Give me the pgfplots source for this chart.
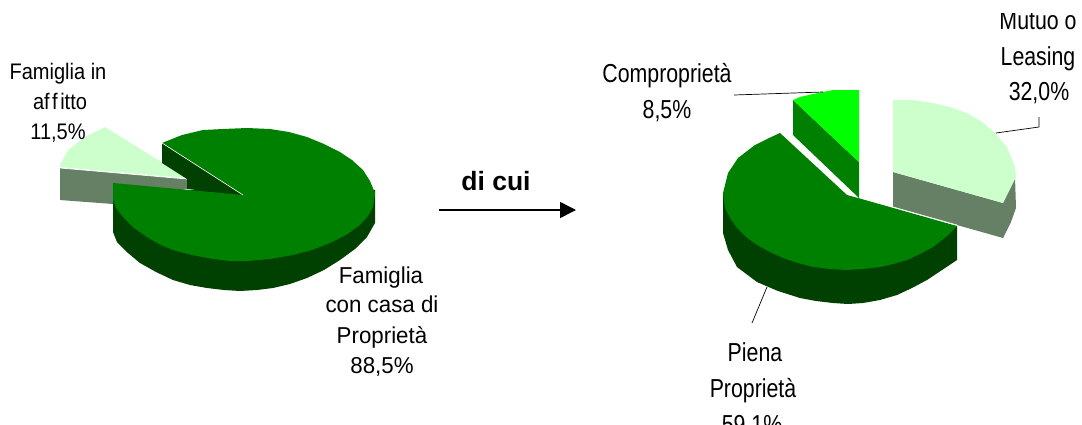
\documentclass[border=0pt]{standalone}
\usepackage{fontspec}
\setmainfont{Liberation Sans}
\newfontfamily\stretta[FakeStretch=0.82]{Liberation Sans}
\newfontfamily\media[FakeStretch=0.89]{Liberation Sans}
\newfontfamily\larga[FakeStretch=0.97]{Liberation Sans}
\usepackage{pgfplots}
\pgfplotsset{compat=1.18}
\usetikzlibrary{arrows.meta}
\definecolor{verde}{HTML}{008000}
\definecolor{verdesc}{HTML}{004000}
\definecolor{chiaro}{HTML}{CCFFCC}
\definecolor{chiarosc}{HTML}{668066}
\definecolor{acceso}{HTML}{00FF00}
\tikzset{
  lab/.style={anchor=base, inner sep=0pt, text=black},
  labr/.style={lab, font=\stretta\fontsize{26}{30}\selectfont},
  labs/.style={lab, font=\media\fontsize{22.5}{26}\selectfont},
  labf/.style={lab, font=\larga\fontsize{23}{27}\selectfont},
}
\pgfplotsset{slice/.style={draw=none, fill=#1, mark=none, forget plot}}
\begin{document}
\begin{tikzpicture}
\path[clip, use as bounding box] (0,0) rectangle (1082pt,424pt);
\begin{axis}[
  at={(0,0)}, anchor=south west,
  scale only axis, width=1082pt, height=424pt,
  xmin=0, xmax=1082, ymin=0, ymax=424,
  y dir=reverse, hide axis, clip=false,
]
% torta sinistra: affitto
\addplot[slice=chiarosc] coordinates {(60,168) (187,179) (187,189) (113,204) (60,200)} -- cycle;
\addplot[slice=chiaro] coordinates {(187,178) (105,127) (85,137) (68,150) (60,165) (60,167) (162,176)} -- cycle;
\addplot[draw=white, line width=0.7pt, forget plot] coordinates {(60,168) (187,179)};
% torta sinistra: proprieta
\addplot[slice=verdesc] coordinates {(162,143) (162,163) (187,179) (187,189) (243,195)} -- cycle;
\addplot[slice=verdesc] coordinates {(113,190) (113,232) (117,242) (128,253) (140,263) (156,272) (173,280) (190,285) (207,288) (224,290) (240,291) (257,290) (273,288) (290,284) (307,278) (324,270) (340,260) (355,249) (367,237) (375,223) (375,190)} -- cycle;
\addplot[slice=verde] coordinates {(113,183) (243,195) (162,143) (182,135) (203,130) (223,129) (247,128) (270,129) (289,132) (307,137) (324,144) (340,152) (352,160) (363,170) (370,181) (375,193) (373,207) (368,216) (360,225) (346,235) (330,243) (312,250) (293,255) (270,259) (247,261) (230,261) (213,259) (192,255) (173,250) (159,244) (147,237) (134,228) (123,217) (116,208) (113,200)} -- cycle;
\addplot[draw=white, line width=0.6pt, forget plot] coordinates {(162,143) (243,195)};
% torta destra: mutuo
\addplot[slice=chiarosc] coordinates {(893,172) (1003,203) (1003,238) (893,207)} -- cycle;
\addplot[slice=chiarosc] coordinates {(1003,203) (1015,177) (1016,208) (1011,222) (1003,238)} -- cycle;
\addplot[slice=chiaro] coordinates {(893,100) (913,100) (933,103) (950,107) (967,113) (982,122) (995,133) (1007,147) (1015,167) (1016,177) (1003,203) (893,172)} -- cycle;
% torta destra: comproprieta
\addplot[slice=verde] coordinates {(793,100) (859,162) (859,198) (793,135)} -- cycle;
\addplot[slice=acceso] coordinates {(793,100) (800,97) (813,94) (833,90) (859,90) (859,162)} -- cycle;
% torta destra: piena
\addplot[slice=verdesc] coordinates {(723,193) (723,233) (728,250) (737,267) (757,282) (778,291) (800,298) (816,301) (833,303) (848,304) (863,303) (880,300) (897,295) (912,288) (927,280) (942,270) (957,260) (957,226)} -- cycle;
\addplot[slice=verde] coordinates {(847,195) (858,198) (957,226) (946,237) (933,247) (920,254) (907,260) (893,264) (880,267) (863,269) (847,270) (830,269) (813,267) (798,263) (783,258) (770,252) (757,245) (746,237) (737,228) (730,218) (725,208) (723,193) (728,173) (738,158) (755,145) (767,139) (780,133)} -- cycle;
\addplot[draw=white, line width=0.7pt, forget plot] coordinates {(893,207) (957,225)};
% linee guida
\addplot[black, line width=0.7pt, forget plot] coordinates {(734,95) (823,92)};
\addplot[black, line width=0.7pt, forget plot] coordinates {(996,133) (1039,127) (1039,117)};
\addplot[black, line width=0.7pt, forget plot] coordinates {(767,287) (752,323)};
% freccia
\addplot[black, line width=1.5pt, forget plot, -{Triangle[length=16pt, width=16pt]}] coordinates {(439,210) (576,210)};
% etichette
\node[labs] at (axis cs:58,79) {Famiglia in};
\node[labs] at (axis cs:60,109) {af\kern2.5pt f\kern2.5pt itto};
\node[labs] at (axis cs:58,139) {11,5\%};
\node[labf] at (axis cs:381,283) {Famiglia};
\node[labf] at (axis cs:382,312) {con casa di};
\node[labf] at (axis cs:382,343) {Proprietà};
\node[labf] at (axis cs:382,373) {88,5\%};
\node[labr] at (axis cs:667,82) {Comproprietà};
\node[labr] at (axis cs:667,118) {8,5\%};
\node[labr] at (axis cs:1038,29) {Mutuo o};
\node[labr] at (axis cs:1038,65) {Leasing};
\node[labr] at (axis cs:1039,100) {32,0\%};
\node[labr] at (axis cs:755,361) {Piena};
\node[labr] at (axis cs:753,397) {Proprietà};
\node[labr] at (axis cs:752,433) {59,1\%};
\node[lab, font=\fontsize{26.5}{30}\selectfont\bfseries] at (axis cs:496,190) {di cui};
% il riquadro del grafico taglia la prima riga in alto
\fill[white] (axis cs:990,0) rectangle (axis cs:1082,13);
\end{axis}
\end{tikzpicture}
\end{document}
